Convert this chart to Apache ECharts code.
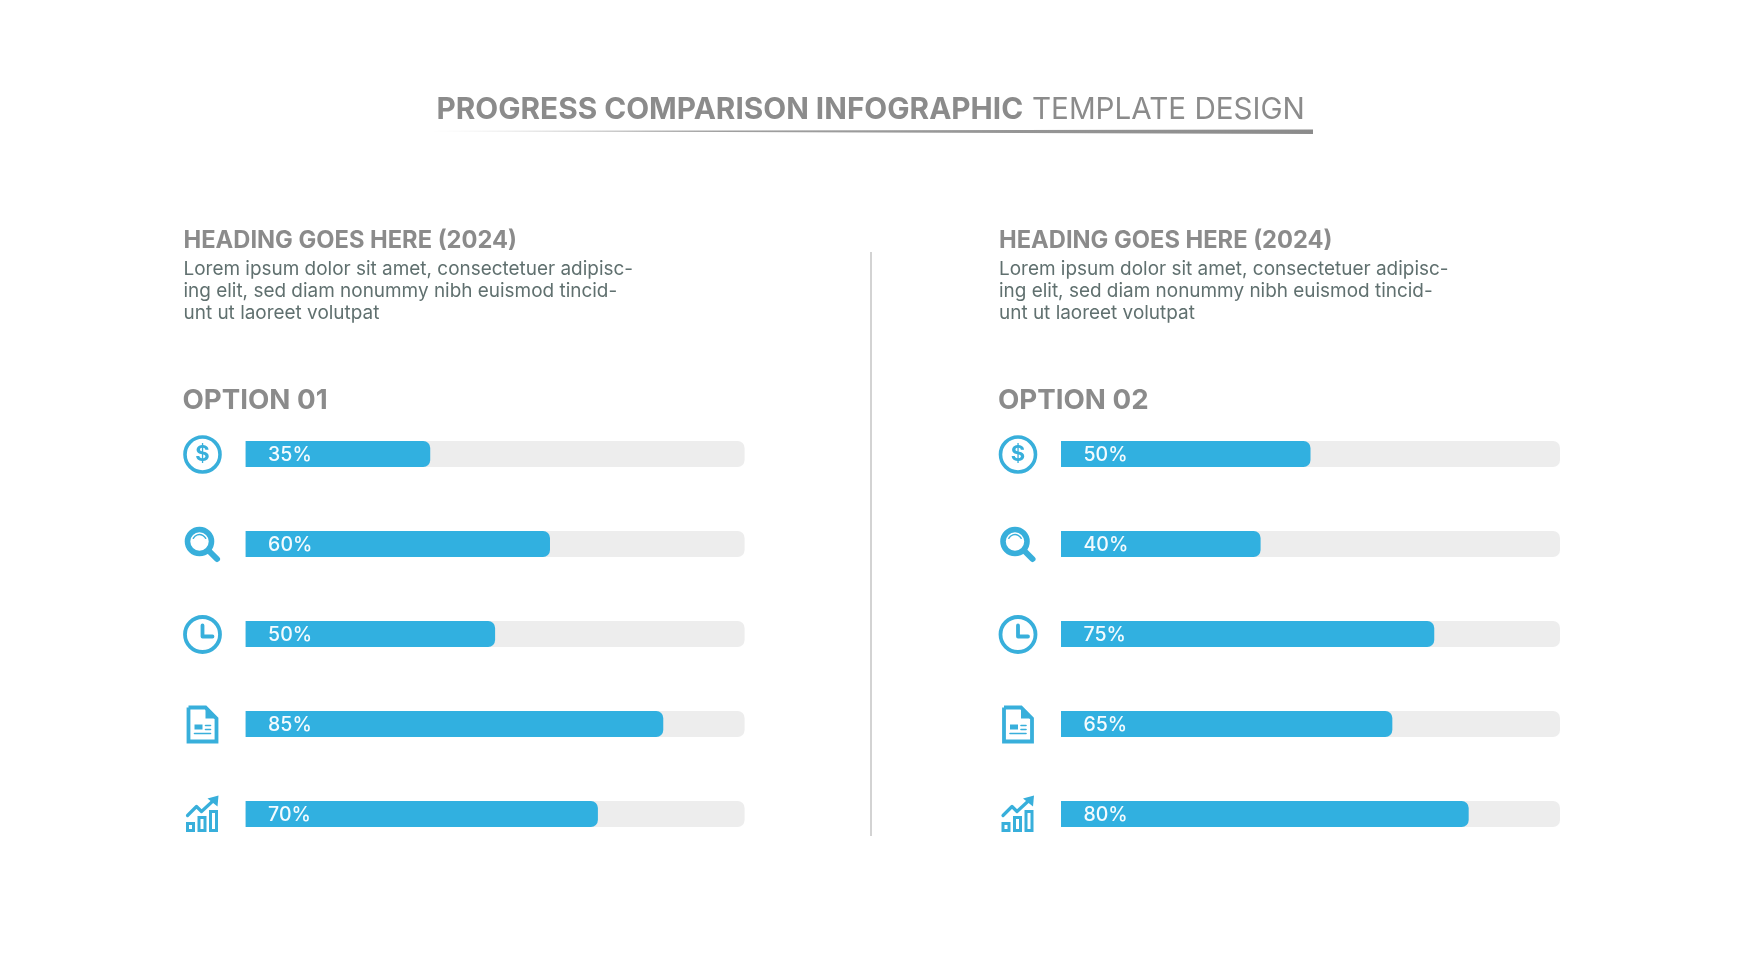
<!DOCTYPE html>
<html>
<head>
<meta charset="utf-8">
<title>Progress comparison</title>
<script src="https://cdn.jsdelivr.net/npm/echarts@6/dist/echarts.min.js"></script>
<style>
	html, body { margin: 0; padding: 0; background: #fff; }
	#chart { width: 1742px; height: 980px; }
</style>
</head>
<body>
<div id="chart"></div>
<script>
const GREY = "#8b8b8b";
const BLUE = "#31b0e0";
const ICON = "#38afdb";

/* length = bar length, label = printed text */
const panels = [ {
	left: 245.6,
	textLeft: 183.5,
	option: "OPTION 01",
	rows: [
		{ icon: "dollar", length: 37, label: "35%" },
		{ icon: "search", length: 61, label: "60%" },
		{ icon: "clock", length: 50, label: "50%" },
		{ icon: "doc", length: 83.7, label: "85%" },
		{ icon: "growth", length: 70.6, label: "70%" }
	]
}, {
	left: 1061,
	textLeft: 999,
	option: "OPTION 02",
	rows: [
		{ icon: "dollar", length: 50, label: "50%" },
		{ icon: "search", length: 40, label: "40%" },
		{ icon: "clock", length: 74.8, label: "75%" },
		{ icon: "doc", length: 66.4, label: "65%" },
		{ icon: "growth", length: 81.7, label: "80%" }
	]
} ];

const bodyLines = [
	"Lorem ipsum dolor sit amet, consectetuer adipisc-",
	"ing elit, sed diam nonummy nibh euismod tincid-",
	"unt ut laoreet volutpat"
];

const GRID_TOP = 409;
const ROW = 90;

function text( x, y, str, size, weight, color ) {
	return {
		type: "text",
		x, y,
		style: {
			text: str,
			fontFamily: "Inter",
			fontSize: size,
			fontWeight: weight,
			fill: color,
			verticalAlign: "middle"
		}
	};
}

const stroke = ( w = 4 ) => ( { stroke: ICON, lineWidth: w, fill: "none", lineCap: "round", lineJoin: "round" } );
const solid = { fill: ICON };

/* icons are drawn around 0,0 */
function iconChildren( name ) {
	switch ( name ) {
		case "dollar": return [
			{ type: "circle", shape: { cx: 0, cy: 0, r: 17.5 }, style: stroke( 3.6 ) },
			{ type: "text", style: { text: "$", x: 0, y: 0, align: "center", verticalAlign: "middle", fontFamily: "Inter", fontWeight: 700, fontSize: 22, fill: ICON } }
		];
		case "search": return [
			{ type: "circle", shape: { cx: -3, cy: -3, r: 12 }, style: stroke( 5.6 ) },
			{ type: "arc", shape: { cx: -3, cy: -3, r: 7, startAngle: Math.PI * 1.15, endAngle: Math.PI * 1.85 }, style: stroke( 1.4 ) },
			{ type: "line", shape: { x1: 7, y1: 7, x2: 14.5, y2: 14.5 }, style: stroke( 6 ) }
		];
		case "clock": return [
			{ type: "circle", shape: { cx: 0, cy: 0, r: 17.5 }, style: stroke( 3.8 ) },
			{ type: "polyline", shape: { points: [ [ 0, -9 ], [ 0, 2 ], [ 10, 2 ] ] }, style: stroke( 3.8 ) }
		];
		case "doc": return [
			{ type: "polyline", shape: { points: [ [ -14, -17 ], [ 3, -17 ], [ 14, -6 ], [ 14, 17 ], [ -14, 17 ], [ -14, -17 ] ] }, style: { ...stroke( 3.8 ), lineCap: "butt", lineJoin: "miter" } },
			{ type: "polygon", shape: { points: [ [ 3, -17 ], [ 3, -6 ], [ 14, -6 ] ] }, style: solid },
			{ type: "rect", shape: { x: -8, y: 0, width: 8, height: 5 }, style: solid },
			{ type: "line", shape: { x1: 3, y1: 1, x2: 8, y2: 1 }, style: stroke( 1.6 ) },
			{ type: "line", shape: { x1: 3, y1: 5, x2: 8, y2: 5 }, style: stroke( 1.6 ) },
			{ type: "line", shape: { x1: -8, y1: 9, x2: 8, y2: 9 }, style: stroke( 1.6 ) }
		];
		case "growth": return [
			{ type: "rect", shape: { x: -15, y: 9, width: 6, height: 7 }, style: { ...stroke( 3 ), lineJoin: "miter" } },
			{ type: "rect", shape: { x: -3.5, y: 3, width: 6, height: 13 }, style: { ...stroke( 3 ), lineJoin: "miter" } },
			{ type: "rect", shape: { x: 8, y: -3, width: 6, height: 19 }, style: { ...stroke( 3 ), lineJoin: "miter" } },
			{ type: "polyline", shape: { points: [ [ -15, 1 ], [ -6, -8 ], [ -1, -3 ], [ 12, -15 ] ] }, style: stroke( 3.2 ) },
			{ type: "polygon", shape: { points: [ [ 16, -19 ], [ 15, -8 ], [ 5, -16 ] ] }, style: solid }
		];
	}
}

const graphic = [
	text( 436.5, 110.5, "PROGRESS COMPARISON INFOGRAPHIC", 29.75, 700, GREY ),
	text( 1032, 110.5, "TEMPLATE DESIGN", 29.6, 400, GREY ),
	{
		type: "polygon",
		shape: { points: [ [ 431, 131 ], [ 1313, 129.5 ], [ 1313, 134 ] ] },
		style: {
			fill: new echarts.graphic.LinearGradient( 0, 0, 1, 0, [
				{ offset: 0, color: "rgba(139,139,139,0.35)" },
				{ offset: 0.25, color: "rgba(139,139,139,0.8)" },
				{ offset: 1, color: GREY }
			] )
		}
	},
	{
		type: "line",
		shape: { x1: 871, y1: 252, x2: 871, y2: 836 },
		style: { stroke: "#c4c4c4", lineWidth: 1.5 }
	}
];

const grid = [], xAxis = [], yAxis = [], series = [];

panels.forEach( ( p, i ) => {
	graphic.push( text( p.textLeft, 241, "HEADING GOES HERE (2024)", 23.7, 700, GREY ) );
	bodyLines.forEach( ( l, j ) => {
		graphic.push( text( p.textLeft, 269.5 + j * 22, l, 18.95, 400, "#60706f" ) );
	} );
	graphic.push( text( p.textLeft - 1, 400.5, p.option, 27.7, 700, GREY ) );
	p.rows.forEach( ( r, j ) => {
		graphic.push( {
			type: "group",
			x: p.textLeft + 19,
			y: GRID_TOP + ROW * j + 45.5,
			children: iconChildren( r.icon )
		} );
	} );

	grid.push( { left: p.left, top: GRID_TOP, width: 499, height: ROW * 5 } );
	xAxis.push( { gridIndex: i, type: "value", min: 0, max: 100, show: false } );
	yAxis.push( {
		gridIndex: i,
		type: "category",
		inverse: true,
		show: false,
		data: p.rows.map( r => r.icon )
	} );
	series.push( {
		type: "bar",
		xAxisIndex: i,
		yAxisIndex: i,
		barWidth: 26,
		showBackground: true,
		backgroundStyle: { color: "#ededed", borderRadius: [ 0, 7, 7, 0 ] },
		itemStyle: { color: BLUE, borderRadius: [ 0, 7, 7, 0 ] },
		label: {
			show: true,
			position: "insideLeft",
			distance: 22.5,
			offset: [ 0, 1 ],
			color: "#f4fbfe",
			fontFamily: "Inter",
			fontSize: 19.5,
			fontWeight: 500,
			formatter: ( { dataIndex } ) => p.rows[ dataIndex ].label
		},
		data: p.rows.map( r => r.length )
	} );
} );

const chart = echarts.init( document.getElementById( "chart" ) );
chart.setOption( {
	animation: false,
	backgroundColor: "#fff",
	grid,
	xAxis,
	yAxis,
	series,
	graphic
} );
</script>
</body>
</html>
